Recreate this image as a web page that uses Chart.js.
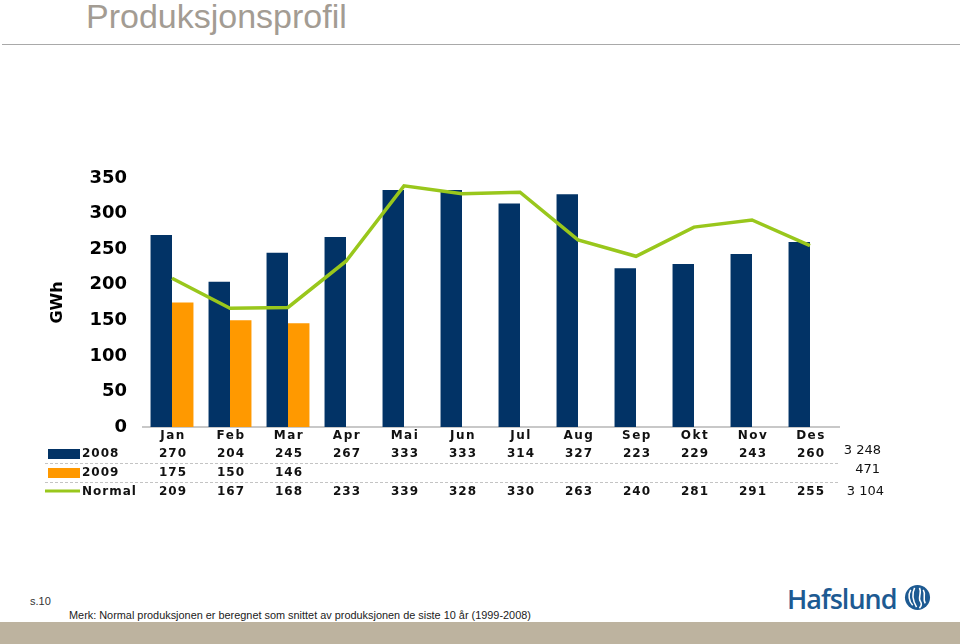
<!DOCTYPE html>
<html>
<head>
<meta charset="utf-8">
<script src="https://cdn.jsdelivr.net/npm/chart.js@4.4.1/dist/chart.umd.min.js"></script>
<style>
  body { margin: 0; width: 960px; height: 644px; position: relative; overflow: hidden; background: #fff; font-family: "Liberation Sans", Arial, sans-serif; }
  #title { position: absolute; left: 86px; top: -3px; font-size: 34px; color: #a39c93; }
  #rule { position: absolute; left: 2px; right: 0; top: 44px; height: 1px; background: #a9a9a9; }
  #page { position: absolute; left: 30px; top: 595px; font-size: 11px; color: #333; }
  #note { position: absolute; left: 69px; top: 609px; font-size: 10.9px; color: #222; }
  #band { position: absolute; left: 0; right: 0; top: 622px; bottom: 0; background: #bdb39f; }
  #logo { position: absolute; left: 787px; top: 580px; font-family: "Open Sans", sans-serif; font-weight: 600; font-size: 27px; letter-spacing: -1px; color: #1d5a92; }
  #emblem { position: absolute; left: 904px; top: 584px; }
  #wrap { position: absolute; left: 0; top: 0; width: 960px; height: 644px; }
</style>
</head>
<body>
<div id="title">Produksjonsprofil</div>
<div id="rule"></div>
<div id="page">s.10</div>
<div id="note">Merk: Normal produksjonen er beregnet som snittet av produksjonen de siste 10 år (1999-2008)</div>
<div id="band"></div>
<div id="logo">Hafslund</div>
<svg id="emblem" width="27" height="27" viewBox="0 0 28 28">
  <circle cx="14" cy="14" r="13" fill="#1d5a92"/>
  <path d="M7 6 C4 11 5 18 9 22" stroke="#fff" stroke-width="1.6" fill="none"/>
  <path d="M11 4 C8 10 9 17 13 24" stroke="#fff" stroke-width="1.6" fill="none"/>
  <path d="M16 4 C19 9 14 14 17 18 C19 21 18 23 16 25" stroke="#fff" stroke-width="1.6" fill="none"/>
  <path d="M20 6 C23 11 19 15 22 20" stroke="#fff" stroke-width="1.6" fill="none"/>
</svg>
<div id="wrap"><canvas id="chart"></canvas></div>
<script>
const months = ['Jan', 'Feb', 'Mar', 'Apr', 'Mai', 'Jun', 'Jul', 'Aug', 'Sep', 'Okt', 'Nov', 'Des'];
const prod2008 = [270, 204, 245, 267, 333, 333, 314, 327, 223, 229, 243, 260];
const prod2009 = [175, 150, 146, null, null, null, null, null, null, null, null, null];
const normal = [209, 167, 168, 233, 339, 328, 330, 263, 240, 281, 291, 255];
const rowLabels = ['2008', '2009', 'Normal'];
const totals = ['3 248', '471', '3 104'];
const yTicks = [0, 50, 100, 150, 200, 250, 300, 350];

const navy = '#023366';
const orange = '#ff9900';
const green = '#99c71c';

// data table under the plot, placed from the x scale
const tablePlugin = {
  id: 'table',
  afterDraw(chart) {
    const ctx = chart.ctx;
    const x = chart.scales.x;
    const rows = [prod2008, prod2009, normal];
    const rowY = [454, 473, 492];
    ctx.save();
    ctx.fillStyle = '#111';
    ctx.textBaseline = 'middle';
    ctx.textAlign = 'center';
    ctx.letterSpacing = '1.5px';
    ctx.font = 'bold 12px "DejaVu Sans"';
    months.forEach((m, i) => ctx.fillText(m, x.getPixelForValue(i) + 1, 436));

    ctx.letterSpacing = '1px';
    rows.forEach((vals, r) => {
      vals.forEach((v, i) => {
        if (v !== null) ctx.fillText(String(v), x.getPixelForValue(i) + 1, rowY[r]);
      });
    });

    // row labels and legend keys
    ctx.textAlign = 'left';
    rowLabels.forEach((t, r) => ctx.fillText(t, 82, rowY[r]));
    ctx.fillStyle = navy;
    ctx.fillRect(48, rowY[0] - 5, 32, 10);
    ctx.fillStyle = orange;
    ctx.fillRect(48, rowY[1] - 5, 32, 10);
    ctx.strokeStyle = green;
    ctx.lineWidth = 3;
    ctx.beginPath();
    ctx.moveTo(45, rowY[2] - 1);
    ctx.lineTo(80, rowY[2] - 1);
    ctx.stroke();

    // dashed separators
    ctx.strokeStyle = '#c4c4c4';
    ctx.lineWidth = 1;
    ctx.setLineDash([3, 2]);
    [463.5, 482.5].forEach(yy => {
      ctx.beginPath();
      ctx.moveTo(45, yy);
      ctx.lineTo(x.right, yy);
      ctx.stroke();
    });
    ctx.setLineDash([]);

    // totals
    ctx.letterSpacing = '0px';
    ctx.fillStyle = '#111';
    ctx.textAlign = 'right';
    ctx.font = '13px "DejaVu Sans"';
    ctx.fillText(totals[0], 881, 451);
    ctx.fillText(totals[1], 880, 470);
    ctx.fillText(totals[2], 884, 492);
    ctx.restore();
  }
};

new Chart(document.getElementById('chart'), {
  type: 'bar',
  data: {
    labels: months,
    datasets: [{
      type: 'line',
      label: 'Normal',
      data: normal,
      borderColor: green,
      borderWidth: 3.5,
      pointRadius: 0,
      tension: 0,
      order: 0
    }, {
      label: '2008',
      data: prod2008,
      backgroundColor: navy,
      barPercentage: 1,
      categoryPercentage: 0.74,
      order: 1
    }, {
      label: '2009',
      data: prod2009,
      backgroundColor: orange,
      barPercentage: 1,
      categoryPercentage: 0.74,
      order: 1
    }]
  },
  options: {
    responsive: true,
    maintainAspectRatio: false,
    animation: false,
    layout: { padding: { left: 0, top: 178, right: 121, bottom: 217 } },
    plugins: { legend: { display: false }, tooltip: { enabled: false } },
    scales: {
      x: {
        grid: { display: false },
        ticks: { display: false },
        border: { color: '#c8c8c8', width: 2 },
        afterFit(scale) { scale.height = 0; }
      },
      y: {
        min: 0,
        max: 350,
        grid: { display: false, drawTicks: false },
        border: { display: false },
        afterBuildTicks(scale) { scale.ticks = yTicks.map(v => ({ value: v })); },
        ticks: {
          padding: 16,
          color: '#000',
          font: { family: 'DejaVu Sans', size: 18, weight: 'bold' }
        },
        title: {
          display: true,
          text: 'GWh',
          color: '#000',
          padding: { top: 48, bottom: 0 },
          font: { family: 'DejaVu Sans', size: 16, weight: 'bold' }
        },
        afterFit(scale) { scale.width = 143; }
      }
    }
  },
  plugins: [tablePlugin]
});
</script>
</body>
</html>
